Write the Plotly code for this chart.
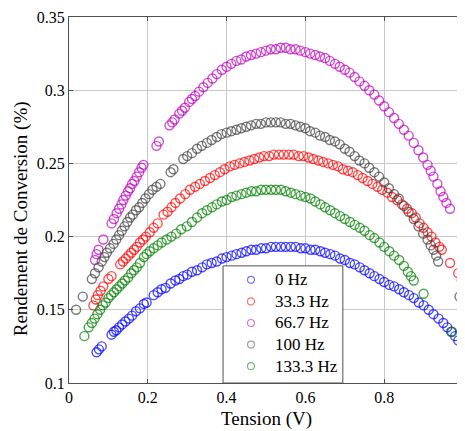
import plotly.graph_objects as go

# ---- data ----
x_0hz = [0.070, 0.076, 0.083, 0.108, 0.114, 0.120, 0.127, 0.135, 0.143, 0.152, 0.160, 0.170, 0.180, 0.190, 0.197,
         0.215, 0.225, 0.235, 0.245, 0.258, 0.270, 0.280, 0.290, 0.300, 0.312, 0.325, 0.338, 0.350, 0.362, 0.375,
         0.388, 0.400, 0.413, 0.425, 0.438, 0.450, 0.463, 0.475, 0.488, 0.500, 0.513, 0.525, 0.538, 0.550, 0.563,
         0.575, 0.588, 0.600, 0.613, 0.625, 0.638, 0.650, 0.663, 0.675, 0.688, 0.700, 0.713, 0.725, 0.738, 0.750,
         0.763, 0.775, 0.788, 0.800, 0.813, 0.825, 0.838, 0.850, 0.863, 0.875, 0.888, 0.900, 0.913, 0.925, 0.938,
         0.950, 0.960, 0.970, 0.980, 0.988]
y_0hz = [0.121, 0.123, 0.125, 0.133, 0.135, 0.136, 0.138, 0.140, 0.142, 0.144, 0.146, 0.149, 0.151, 0.154, 0.155,
         0.160, 0.162, 0.164, 0.165, 0.168, 0.170, 0.171, 0.173, 0.174, 0.176, 0.177, 0.179, 0.181, 0.182, 0.183,
         0.185, 0.186, 0.187, 0.188, 0.189, 0.190, 0.191, 0.191, 0.192, 0.192, 0.193, 0.193, 0.193, 0.193, 0.193,
         0.193, 0.192, 0.192, 0.191, 0.191, 0.190, 0.189, 0.188, 0.187, 0.185, 0.184, 0.182, 0.181, 0.179, 0.177,
         0.175, 0.173, 0.171, 0.169, 0.167, 0.166, 0.164, 0.162, 0.160, 0.158, 0.155, 0.153, 0.150, 0.147, 0.144,
         0.141, 0.138, 0.135, 0.132, 0.129]

x_33hz = [0.062, 0.068, 0.073, 0.080, 0.087, 0.100, 0.108, 0.130, 0.137, 0.144, 0.151, 0.158, 0.165, 0.172, 0.180,
          0.188, 0.195, 0.205, 0.215, 0.225, 0.240, 0.250, 0.260, 0.270, 0.282, 0.295, 0.307, 0.320, 0.332, 0.345,
          0.358, 0.370, 0.383, 0.395, 0.408, 0.420, 0.433, 0.445, 0.458, 0.470, 0.483, 0.495, 0.508, 0.520, 0.533,
          0.545, 0.558, 0.570, 0.583, 0.595, 0.608, 0.620, 0.633, 0.645, 0.658, 0.670, 0.683, 0.695, 0.708, 0.720,
          0.733, 0.745, 0.758, 0.770, 0.783, 0.795, 0.808, 0.820, 0.833, 0.845, 0.858, 0.870, 0.880, 0.890, 0.900,
          0.910, 0.920, 0.930, 0.940, 0.946, 0.967, 0.988, 0.997]
y_33hz = [0.153, 0.157, 0.160, 0.163, 0.166, 0.171, 0.173, 0.181, 0.183, 0.185, 0.187, 0.189, 0.191, 0.193, 0.196,
          0.198, 0.200, 0.203, 0.206, 0.209, 0.215, 0.217, 0.220, 0.223, 0.226, 0.229, 0.232, 0.234, 0.236, 0.238,
          0.240, 0.242, 0.244, 0.246, 0.248, 0.249, 0.250, 0.251, 0.252, 0.253, 0.254, 0.255, 0.255, 0.256, 0.256,
          0.256, 0.256, 0.256, 0.255, 0.255, 0.254, 0.253, 0.252, 0.251, 0.250, 0.249, 0.248, 0.246, 0.245, 0.244,
          0.242, 0.240, 0.238, 0.236, 0.234, 0.232, 0.230, 0.227, 0.225, 0.222, 0.219, 0.216, 0.213, 0.209, 0.206,
          0.203, 0.200, 0.196, 0.193, 0.191, 0.182, 0.175, 0.170]

x_67hz = [0.066, 0.070, 0.075, 0.087, 0.108, 0.114, 0.121, 0.127, 0.133, 0.138, 0.144, 0.150, 0.155, 0.160, 0.166,
          0.172, 0.178, 0.184, 0.189, 0.222, 0.228, 0.255, 0.262, 0.268, 0.280, 0.287, 0.294, 0.305, 0.312, 0.320,
          0.330, 0.341, 0.352, 0.364, 0.375, 0.388, 0.400, 0.412, 0.425, 0.437, 0.450, 0.462, 0.475, 0.487, 0.500,
          0.512, 0.525, 0.537, 0.550, 0.562, 0.575, 0.587, 0.600, 0.612, 0.625, 0.637, 0.650, 0.662, 0.675, 0.687,
          0.700, 0.712, 0.725, 0.737, 0.750, 0.762, 0.775, 0.787, 0.800, 0.812, 0.825, 0.837, 0.850, 0.862, 0.875,
          0.887, 0.899, 0.910, 0.918, 0.925, 0.935, 0.943, 0.950, 0.958, 0.967]
y_67hz = [0.184, 0.188, 0.191, 0.198, 0.209, 0.212, 0.216, 0.219, 0.222, 0.225, 0.228, 0.231, 0.233, 0.236, 0.238,
          0.241, 0.244, 0.247, 0.249, 0.262, 0.265, 0.276, 0.278, 0.280, 0.284, 0.286, 0.288, 0.292, 0.294, 0.296,
          0.299, 0.302, 0.305, 0.308, 0.311, 0.314, 0.316, 0.318, 0.320, 0.321, 0.323, 0.324, 0.325, 0.326, 0.327,
          0.328, 0.328, 0.329, 0.329, 0.328, 0.328, 0.327, 0.326, 0.325, 0.324, 0.323, 0.322, 0.320, 0.318, 0.316,
          0.314, 0.312, 0.309, 0.306, 0.303, 0.300, 0.297, 0.293, 0.289, 0.285, 0.281, 0.277, 0.273, 0.269, 0.264,
          0.259, 0.254, 0.249, 0.245, 0.241, 0.236, 0.231, 0.227, 0.223, 0.219]

x_100hz = [0.018, 0.035, 0.058, 0.066, 0.075, 0.083, 0.090, 0.096, 0.104, 0.113, 0.120, 0.127, 0.134, 0.141, 0.148,
           0.155, 0.162, 0.170, 0.178, 0.186, 0.194, 0.203, 0.212, 0.222, 0.232, 0.258, 0.265, 0.290, 0.300, 0.312,
           0.325, 0.337, 0.350, 0.362, 0.375, 0.387, 0.400, 0.412, 0.425, 0.437, 0.450, 0.462, 0.475, 0.487, 0.500,
           0.512, 0.525, 0.537, 0.550, 0.562, 0.575, 0.587, 0.600, 0.612, 0.625, 0.637, 0.650, 0.662, 0.675, 0.687,
           0.700, 0.712, 0.725, 0.737, 0.750, 0.762, 0.775, 0.787, 0.800, 0.812, 0.825, 0.837, 0.850, 0.862, 0.875,
           0.887, 0.899, 0.910, 0.918, 0.925, 0.932, 0.937, 0.991]
y_100hz = [0.150, 0.159, 0.171, 0.175, 0.179, 0.183, 0.186, 0.189, 0.192, 0.195, 0.198, 0.201, 0.204, 0.207, 0.210,
           0.213, 0.215, 0.218, 0.220, 0.223, 0.226, 0.229, 0.232, 0.234, 0.236, 0.244, 0.246, 0.253, 0.255, 0.257,
           0.260, 0.262, 0.264, 0.266, 0.268, 0.270, 0.271, 0.272, 0.273, 0.274, 0.275, 0.276, 0.277, 0.277, 0.278,
           0.278, 0.278, 0.278, 0.277, 0.277, 0.276, 0.275, 0.274, 0.272, 0.271, 0.269, 0.268, 0.266, 0.265, 0.263,
           0.260, 0.258, 0.255, 0.252, 0.250, 0.247, 0.244, 0.241, 0.237, 0.233, 0.229, 0.226, 0.221, 0.217, 0.212,
           0.207, 0.202, 0.198, 0.194, 0.191, 0.187, 0.183, 0.159]

x_133hz = [0.039, 0.050, 0.058, 0.065, 0.072, 0.079, 0.086, 0.093, 0.100, 0.107, 0.114, 0.121, 0.128, 0.135, 0.142,
           0.150, 0.158, 0.165, 0.172, 0.180, 0.190, 0.197, 0.205, 0.215, 0.225, 0.235, 0.248, 0.260, 0.272, 0.285,
           0.299, 0.312, 0.325, 0.338, 0.350, 0.363, 0.375, 0.388, 0.400, 0.413, 0.425, 0.438, 0.450, 0.463, 0.475,
           0.488, 0.500, 0.513, 0.525, 0.538, 0.550, 0.563, 0.575, 0.588, 0.600, 0.613, 0.625, 0.638, 0.650, 0.663,
           0.675, 0.688, 0.700, 0.713, 0.725, 0.738, 0.750, 0.763, 0.775, 0.788, 0.800, 0.813, 0.825, 0.838, 0.850,
           0.860, 0.868, 0.875, 0.900, 0.972]
y_133hz = [0.132, 0.138, 0.141, 0.144, 0.147, 0.150, 0.153, 0.155, 0.158, 0.160, 0.162, 0.164, 0.166, 0.168, 0.170,
           0.172, 0.175, 0.177, 0.179, 0.182, 0.186, 0.188, 0.190, 0.192, 0.194, 0.196, 0.198, 0.200, 0.202, 0.205,
           0.207, 0.210, 0.213, 0.216, 0.218, 0.220, 0.222, 0.224, 0.225, 0.227, 0.228, 0.229, 0.230, 0.231, 0.231,
           0.232, 0.232, 0.232, 0.232, 0.232, 0.231, 0.230, 0.229, 0.228, 0.227, 0.226, 0.224, 0.222, 0.220, 0.218,
           0.216, 0.214, 0.212, 0.210, 0.208, 0.206, 0.204, 0.201, 0.199, 0.196, 0.193, 0.190, 0.187, 0.184, 0.180,
           0.176, 0.173, 0.170, 0.161, 0.135]

series_names = ["0 Hz", "33.3 Hz", "66.7 Hz", "100 Hz", "133.3 Hz"]
series_x = [x_0hz, x_33hz, x_67hz, x_100hz, x_133hz]
series_y = [y_0hz, y_33hz, y_67hz, y_100hz, y_133hz]
series_colors = ["rgba(0,0,255,0.7)", "rgba(255,0,0,0.7)", "rgba(191,0,191,0.7)",
                 "rgba(64,64,64,0.7)", "rgba(0,128,0,0.7)"]
legend_colors = ["rgba(0,0,255,0.55)", "rgba(255,0,0,0.55)", "rgba(191,0,191,0.55)",
                 "rgba(64,64,64,0.5)", "rgba(0,128,0,0.55)"]

x_ticks = [0, 0.2, 0.4, 0.6, 0.8, 1]
x_ticklabels = ["0", "0.2", "0.4", "0.6", "0.8", "1"]
y_ticks = [0.1, 0.15, 0.2, 0.25, 0.3, 0.35]
y_ticklabels = ["0.1", "0.15", "0.2", "0.25", "0.3", "0.35"]

FONT = "Liberation Serif"

fig = go.Figure()
for name, xs, ys, col in zip(series_names, series_x, series_y, series_colors):
    fig.add_trace(go.Scatter(
        x=xs, y=ys, mode="markers", name=name, showlegend=False, cliponaxis=False,
        marker=dict(symbol="circle-open", size=9, color=col, line=dict(width=1.4, color=col)),
    ))

axis_common = dict(
    showgrid=True, gridcolor="rgb(200,200,200)", gridwidth=1,
    showline=True, linecolor="rgb(80,80,80)", linewidth=1, mirror="ticks",
    ticks="inside", ticklen=4, tickcolor="rgb(80,80,80)",
    zeroline=False, automargin=False, ticklabeloverflow="allow",
    tickfont=dict(family=FONT, size=16, color="black"),
)

# ---- legend drawn by hand (box, small circles, labels) in paper coordinates ----
leg_x0, leg_x1, leg_y0, leg_y1 = 0.391, 0.695, 0.0, 0.320
leg_sym_x, leg_txt_x = 0.462, 0.519
leg_rows = [0.282, 0.223, 0.164, 0.105, 0.046]

shapes = [dict(type="rect", xref="paper", yref="paper", x0=leg_x0, x1=leg_x1, y0=leg_y0, y1=leg_y1,
               fillcolor="white", line=dict(color="rgb(80,80,80)", width=1), layer="above")]
annotations = []
for name, col, ry in zip(series_names, legend_colors, leg_rows):
    shapes.append(dict(type="circle", xref="paper", yref="paper", xsizemode="pixel", ysizemode="pixel",
                       xanchor=leg_sym_x, yanchor=ry, x0=-3.5, x1=3.5, y0=-3.5, y1=3.5,
                       line=dict(color=col, width=1.2), layer="above"))
    annotations.append(dict(text=name, xref="paper", yref="paper", x=leg_txt_x, y=ry,
                            xanchor="left", yanchor="middle", showarrow=False,
                            font=dict(family=FONT, size=17, color="black")))

# axis titles
annotations.append(dict(text="Tension (V)", xref="paper", yref="paper", x=0.5, y=-0.097,
                        xanchor="center", yanchor="middle", showarrow=False,
                        font=dict(family=FONT, size=19, color="black")))
annotations.append(dict(text="Rendement de Conversion (%)", xref="paper", yref="paper", x=-0.122, y=0.45,
                        xanchor="center", yanchor="middle", textangle=-90, showarrow=False,
                        font=dict(family=FONT, size=19, color="black")))

# the page body has an 8px margin, so the figure is sized/offset to compensate
fig.update_layout(
    width=457, height=423,
    margin=dict(l=61, r=2, t=9, b=48, autoexpand=False),
    paper_bgcolor="white", plot_bgcolor="white",
    font=dict(family=FONT, color="black"),
    xaxis=dict(range=[0, 1], tickvals=x_ticks, ticktext=x_ticklabels, **axis_common),
    yaxis=dict(range=[0.1, 0.35], tickvals=y_ticks, ticktext=y_ticklabels, **axis_common),
    shapes=shapes, annotations=annotations,
    showlegend=False,
)

fig.write_html("out.html")
